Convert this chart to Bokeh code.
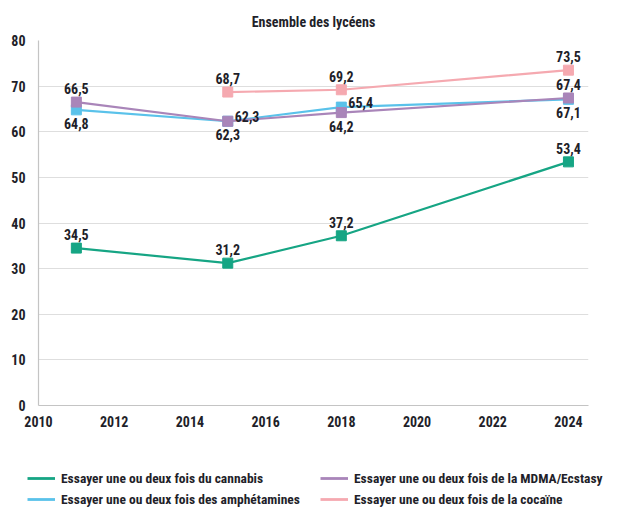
from bokeh.plotting import figure
from bokeh.models import ColumnDataSource, Legend, LegendItem, FixedTicker, Range1d
from bokeh.layouts import column, row
from bokeh.core.properties import value
from bokeh.embed import file_html
from bokeh.resources import INLINE

# ---- data ----
title = "Ensemble des lycéens"
years_cannabis = [2011, 2015, 2018, 2024]
cannabis = [34.5, 31.2, 37.2, 53.4]
years_mdma = [2011, 2015, 2018, 2024]
mdma = [66.5, 62.3, 64.2, 67.4]
years_amph = [2011, 2015, 2018, 2024]
amph = [64.8, 62.3, 65.4, 67.1]
years_coc = [2015, 2018, 2024]
cocaine = [68.7, 69.2, 73.5]
names = [
    "Essayer une ou deux fois du cannabis",
    "Essayer une ou deux fois de la MDMA/Ecstasy",
    "Essayer une ou deux fois des amphétamines",
    "Essayer une ou deux fois de la cocaïne",
]
x_ticks = [2010, 2012, 2014, 2016, 2018, 2020, 2022, 2024]
y_ticks = [0, 10, 20, 30, 40, 50, 60, 70, 80]

# label placement (style): a = above, b = below, r = right/above
pos_cannabis = ["a", "a", "a", "a"]
pos_mdma = ["a", "r", "b", "a"]
pos_amph = ["b", "b", "r", "b"]
pos_coc = ["a", "a", "a"]

colors = ["#16a584", "#a985b9", "#5ac2ea", "#f5a9b0"]
FONT = "'Roboto Condensed', 'Liberation Sans Narrow', 'Arial Narrow', Roboto, sans-serif"
TXT = "#1f1f2a"

p = figure(width=609, height=435, output_backend="svg", toolbar_location=None,
           x_range=Range1d(2010, 2024.53), y_range=Range1d(0, 80),
           min_border_left=38, min_border_right=21, min_border_top=40, min_border_bottom=30)
p.outline_line_color = None
p.background_fill_color = "white"
p.border_fill_color = "white"

p.title.text = title
p.title.align = "center"
p.title.text_font = FONT
p.title.text_font_size = "14px"
p.title.text_font_style = "bold"
p.title.text_color = TXT
p.title.standoff = 21

for ax in (p.xaxis[0], p.yaxis[0]):
    ax.axis_line_color = "#c4c4c4"
    ax.axis_line_width = 1.2
    ax.major_tick_line_color = None
    ax.minor_tick_line_color = None
    ax.major_label_text_font = FONT
    ax.major_label_text_font_size = "14px"
    ax.major_label_text_font_style = "bold"
    ax.major_label_text_color = TXT
p.xaxis.ticker = FixedTicker(ticks=x_ticks)
p.yaxis.ticker = FixedTicker(ticks=y_ticks)
p.xaxis.major_label_standoff = 4
p.yaxis.major_label_standoff = 7

p.xgrid.grid_line_color = None
p.ygrid.ticker = FixedTicker(ticks=y_ticks[1:-1])
p.ygrid.grid_line_color = "#dedede"
p.ygrid.grid_line_width = 1.2

series = [
    (years_cannabis, cannabis, pos_cannabis, colors[0], names[0]),
    (years_amph, amph, pos_amph, colors[2], names[2]),
    (years_mdma, mdma, pos_mdma, colors[1], names[1]),
    (years_coc, cocaine, pos_coc, colors[3], names[3]),
]

# legend figure (separate panel below the chart)
lf = figure(width=609, height=78, output_backend="svg", toolbar_location=None,
            x_range=Range1d(0, 1), y_range=Range1d(0, 1),
            x_axis_location=None, y_axis_location=None,
            min_border=0, min_border_left=0, min_border_right=0,
            min_border_top=0, min_border_bottom=0)
lf.grid.visible = False
lf.outline_line_color = None

leg_renderers = {}
for xs, ys, pos, col, nm in series:
    src = ColumnDataSource(dict(x=xs, y=ys))
    p.line("x", "y", source=src, line_color=col, line_width=2.2)
    p.scatter("x", "y", source=src, marker="square", size=10, fill_color=col, line_color=col)
    leg_renderers[nm] = lf.line("x", "y", source=src, line_color=col, line_width=2.8)

# labels
for xs, ys, pos, col, nm in series:
    txt = [f"{v:.1f}".replace(".", ",") for v in ys]
    xo, yo, al, bl = [], [], [], []
    for q in pos:
        if q == "a":
            xo.append(0); yo.append(-8); al.append("center"); bl.append("bottom")
        elif q == "b":
            xo.append(0); yo.append(8); al.append("center"); bl.append("top")
        else:
            xo.append(7); yo.append(1); al.append("left"); bl.append("bottom")
    lsrc = ColumnDataSource(dict(x=xs, y=ys, t=txt, xo=xo, yo=yo, al=al, bl=bl))
    p.text("x", "y", text="t", source=lsrc, x_offset="xo", y_offset="yo",
           text_align="al", text_baseline="bl", text_font=value(FONT),
           text_font_size="14px", text_font_style="bold", text_color=TXT)

def make_legend(keys, loc):
    lg = Legend(items=[LegendItem(label=k, renderers=[leg_renderers[k]]) for k in keys],
                location=loc, orientation="vertical")
    lg.border_line_color = None
    lg.background_fill_alpha = 0
    lg.margin = 0
    lg.padding = 0
    lg.spacing = 1
    lg.glyph_width = 28
    lg.glyph_height = 20
    lg.label_height = 20
    lg.label_standoff = 6
    lg.label_text_font = FONT
    lg.label_text_font_size = "13.5px"
    lg.label_text_font_style = "bold"
    lg.label_text_color = TXT
    return lg

lf.add_layout(make_legend([names[0], names[2]], (27, 4)))
lf.add_layout(make_legend([names[1], names[3]], (320, 4)))

layout = column(p, row(lf), spacing=0)
open("out.html", "w").write(file_html(layout, INLINE))
